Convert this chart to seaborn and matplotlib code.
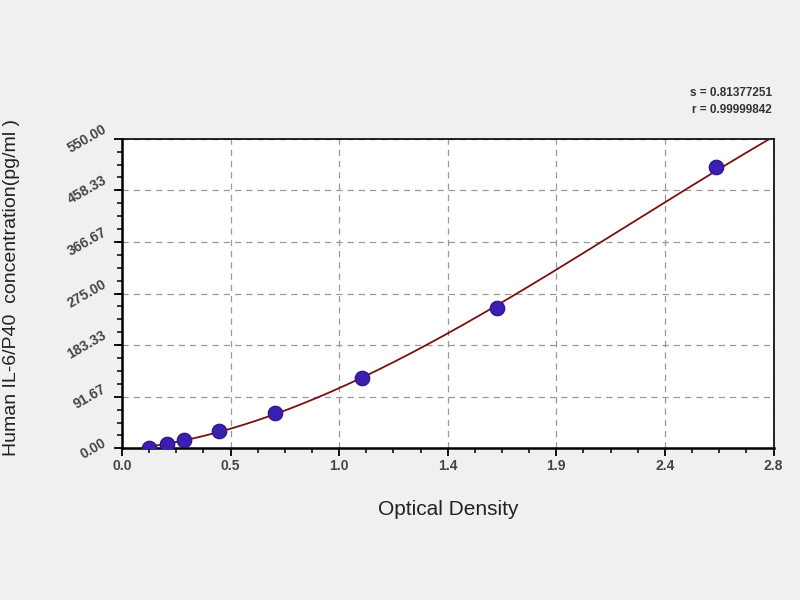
import numpy as np
import pandas as pd
import matplotlib
matplotlib.use("Agg")
import matplotlib.pyplot as plt
from matplotlib.ticker import AutoMinorLocator
import seaborn as sns

# Puntos del estándar (OD vs concentración)
od = [0.116, 0.192, 0.266, 0.417, 0.658, 1.030, 1.613, 2.552]
conc = [0.0, 7.81, 15.63, 31.25, 62.5, 125.0, 250.0, 500.0]

# extremo de la curva (esquina superior derecha)
curva_fin_x = 2.8
curva_fin_y = 549.0

x_ticks = [0.0, 2.8 / 6, 2.8 * 2 / 6, 1.4, 2.8 * 4 / 6, 2.8 * 5 / 6, 2.8]
x_labels = ["0.0", "0.5", "1.0", "1.4", "1.9", "2.4", "2.8"]
y_ticks = [0.0, 91.67, 183.33, 275.0, 366.67, 458.33, 550.0]
y_labels = ["0.00", "91.67", "183.33", "275.00", "366.67", "458.33", "550.00"]

s_text = "s = 0.81377251"
r_text = "r = 0.99999842"

sns.set_style("white")
plt.rcParams["font.family"] = ["Liberation Sans", "DejaVu Sans"]

fig = plt.figure(figsize=(8, 6), dpi=100)
fig.patch.set_facecolor("#f0f0f0")
ax = fig.add_axes([0.1525, 0.2528, 0.8144, 0.516])
ax.set_facecolor("white")

# Curva ajustada a partir de los puntos
fx = od + [curva_fin_x]
fy = conc + [curva_fin_y]
coef = np.polyfit(fx, fy, 3)
xs = np.linspace(od[0], curva_fin_x, 200)
curva = pd.DataFrame({"x": xs, "y": np.polyval(coef, xs)})
sns.lineplot(data=curva, x="x", y="y", ax=ax, color="#7a1010", linewidth=1.3, zorder=3)

df = pd.DataFrame({"od": od, "conc": conc})
sns.scatterplot(data=df, x="od", y="conc", ax=ax, color="#3a1fb0", s=110,
                edgecolor="#2a0f80", linewidth=0.8, zorder=4)

ax.set_xlim(0, 2.8)
ax.set_ylim(0, 550)
ax.set_xticks(x_ticks)
ax.set_xticklabels(x_labels)
ax.set_yticks(y_ticks)
ax.set_yticklabels(y_labels, rotation=30, va="center", ha="right")
ax.xaxis.set_minor_locator(AutoMinorLocator(4))
ax.yaxis.set_minor_locator(AutoMinorLocator(4))
ax.tick_params(axis="both", which="major", direction="out", length=6, width=1.3,
               labelsize=10, labelcolor="#444444", color="black", bottom=True, left=True)
ax.tick_params(axis="x", which="major", pad=2)
ax.tick_params(axis="both", which="minor", direction="out", length=3.5, width=1.1,
               color="black", bottom=True, left=True)
for lab in ax.get_xticklabels() + ax.get_yticklabels():
    lab.set_fontweight("bold")

ax.grid(True, which="major", linestyle=(0, (5, 4)), color="#999999", linewidth=0.9)
ax.set_axisbelow(True)
for side in ["top", "right"]:
    ax.spines[side].set_color("black")
    ax.spines[side].set_linewidth(1.2)
for side in ["left", "bottom"]:
    ax.spines[side].set_color("black")
    ax.spines[side].set_linewidth(1.8)

ax.set_xlabel("Optical Density", fontsize=15, color="#222222")
ax.xaxis.set_label_coords(0.5, -0.168)
ax.set_ylabel("Human IL-6/P40  concentration(pg/ml )", fontsize=14, color="#222222")
ax.yaxis.set_label_coords(-0.156, 0.518)

fig.text(0.965, 0.845, s_text, ha="right", va="center", fontsize=8.5, color="#333333", fontweight="bold")
fig.text(0.965, 0.817, r_text, ha="right", va="center", fontsize=8.5, color="#333333", fontweight="bold")

fig.savefig("out.png", dpi=100, facecolor=fig.get_facecolor())
